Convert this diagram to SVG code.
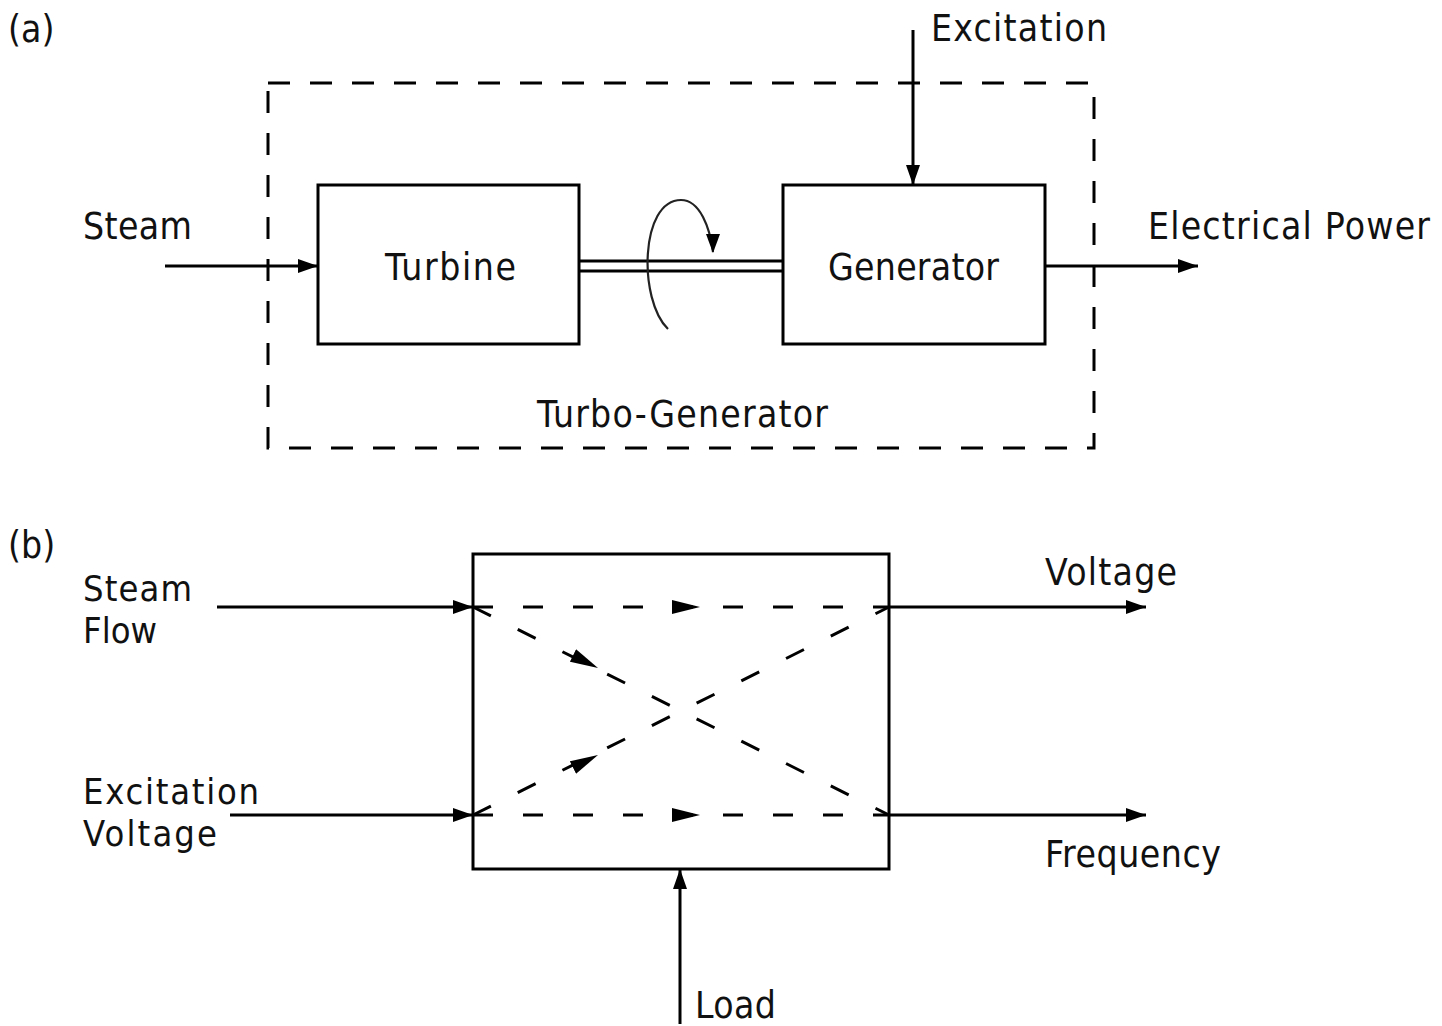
<svg xmlns="http://www.w3.org/2000/svg" width="1442" height="1026" viewBox="0 0 1442 1026">
<defs>
<style>
text{font-family:"DejaVu Sans Condensed","DejaVu Sans","Liberation Sans",sans-serif;font-size:37px;fill:#111}
.two{font-size:36px}
.box{fill:none;stroke:#000;stroke-width:3}
.ln{fill:none;stroke:#000;stroke-width:3}
.dash{fill:none;stroke:#000;stroke-width:3;stroke-dasharray:20 30}
.bdash{fill:none;stroke:#000;stroke-width:3;stroke-dasharray:22 20}
</style>
<marker id="ah" viewBox="0 0 20 14" refX="20" refY="7" markerWidth="20" markerHeight="14" markerUnits="userSpaceOnUse" orient="auto">
<path d="M0,0 L20,7 L0,14 Z" fill="#000"/>
</marker>
<marker id="ahm" viewBox="0 0 28 14" refX="28" refY="7" markerWidth="28" markerHeight="14" markerUnits="userSpaceOnUse" orient="auto">
<path d="M0,0 L28,7 L0,14 Z" fill="#000"/>
</marker>
</defs>
<rect width="1442" height="1026" fill="#fff"/>

<text x="8" y="42">(a)</text>
<text x="8" y="558">(b)</text>

<g id="turbo-generator">
<rect class="bdash" x="268" y="83" width="826" height="365"/>
<text x="537" y="427" textLength="291">Turbo-Generator</text>
</g>
<g id="turbine">
<rect class="box" x="318" y="185" width="261" height="159"/>
<text x="385" y="280" textLength="131">Turbine</text>
</g>
<g id="generator">
<rect class="box" x="783" y="185" width="262" height="159"/>
<text x="828" y="280" textLength="171">Generator</text>
</g>
<g id="shaft">
<line class="ln" x1="579" y1="261" x2="783" y2="261"/>
<line class="ln" x1="579" y1="271" x2="783" y2="271"/>
<path d="M668,329 C638,300 640,200 681,200 C700,200 710,228 713,252" fill="none" stroke="#222" stroke-width="2.2"/>
<path d="M706,234 L720,234 L713,253 Z" fill="#000"/>
</g>

<g id="plant">
<rect class="box" x="473" y="554" width="416" height="315"/>
</g>

<g id="connectors">
<line class="ln" x1="165" y1="266" x2="318" y2="266" marker-end="url(#ah)"/>
<line class="ln" x1="1045" y1="266" x2="1198" y2="266" marker-end="url(#ah)"/>
<line class="ln" x1="913" y1="30" x2="913" y2="185" marker-end="url(#ah)"/>
<line class="ln" x1="217" y1="607" x2="473" y2="607" marker-end="url(#ah)"/>
<line class="ln" x1="230" y1="815" x2="473" y2="815" marker-end="url(#ah)"/>
<line class="ln" x1="889" y1="607" x2="1146" y2="607" marker-end="url(#ah)"/>
<line class="ln" x1="889" y1="815" x2="1146" y2="815" marker-end="url(#ah)"/>
<line class="ln" x1="680" y1="1024" x2="680" y2="869" marker-end="url(#ah)"/>
<line class="dash" x1="473" y1="607" x2="889" y2="607"/>
<line class="dash" x1="473" y1="815" x2="889" y2="815"/>
<line class="dash" x1="473" y1="607" x2="889" y2="815"/>
<line class="dash" x1="473" y1="815" x2="889" y2="607"/>
<path d="M672,600 L700,607 L672,614 Z" fill="#000"/>
<path d="M672,808 L700,815 L672,822 Z" fill="#000"/>
<line x1="570" y1="654" x2="598" y2="668" stroke="none" marker-end="url(#ahm)"/>
<line x1="570" y1="769" x2="598" y2="755" stroke="none" marker-end="url(#ahm)"/>
</g>

<g id="labels">
<text x="83" y="239" textLength="109">Steam</text>
<text x="1148" y="239" textLength="282">Electrical Power</text>
<text x="931" y="41" textLength="176">Excitation</text>
<text class="two" x="83" y="601" textLength="109">Steam</text>
<text class="two" x="83" y="643">Flow</text>
<text class="two" x="83" y="804" textLength="176">Excitation</text>
<text class="two" x="83" y="846" textLength="134">Voltage</text>
<text x="1045" y="585" textLength="132">Voltage</text>
<text x="1045" y="867" textLength="176">Frequency</text>
<text x="695" y="1018" textLength="81">Load</text>
</g>
</svg>
